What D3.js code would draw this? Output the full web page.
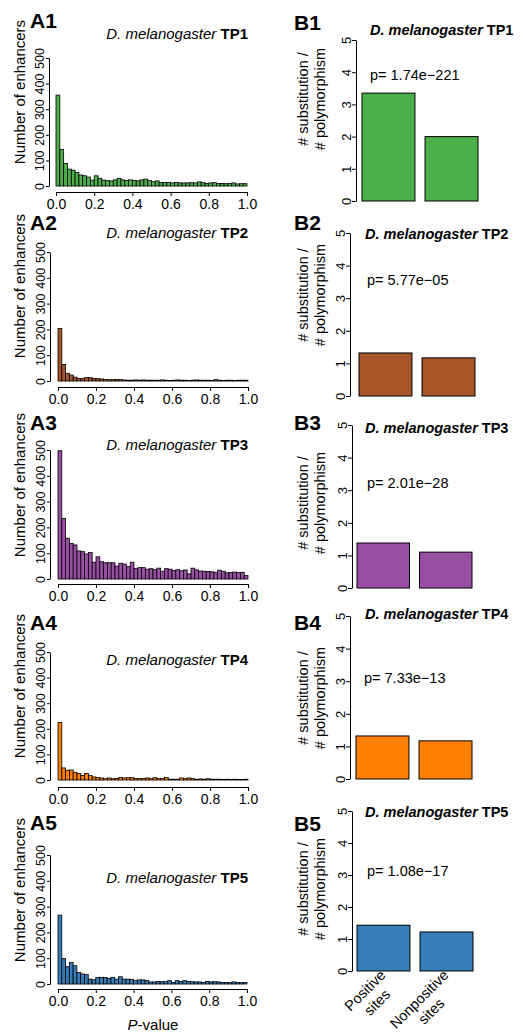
<!DOCTYPE html>
<html>
<head>
<meta charset="utf-8">
<script src="https://cdn.jsdelivr.net/npm/d3@7"></script>
<style>
  body { margin: 0; background: #fff; }
  svg { display: block; font-family: "Liberation Sans", Arial, sans-serif; }
  .domain, .tick line { stroke: #000; stroke-width: 1; }
</style>
</head>
<body>
<svg id="fig" width="523" height="1035"></svg>
<script>
// ---- data ----
const timepoints = ["TP1", "TP2", "TP3", "TP4", "TP5"];
const panelColors = ["#4daf4a", "#a65628", "#984ea3", "#ff7f00", "#377eb8"];
const binWidth = 0.02;

// enhancer counts per P-value bin (50 bins of 0.02)
const countsTP1 = [355, 143, 88, 66, 62, 53, 43, 40, 35, 23, 40, 30, 23, 21, 20, 24, 29, 24, 21, 24,
  22, 20, 24, 27, 21, 17, 20, 14, 14, 14, 12, 14, 12, 12, 12, 13, 12, 16, 13, 10,
  12, 13, 10, 10, 9, 10, 12, 8, 9, 9];
const countsTP2 = [204, 64, 30, 23, 15, 10, 10, 13, 13, 10, 9, 8, 6, 5, 5, 6, 5, 4, 3, 3,
  4, 3, 4, 3, 3, 3, 3, 4, 3, 2, 3, 4, 3, 3, 2, 3, 4, 3, 3, 3,
  2, 5, 3, 2, 3, 3, 2, 3, 3, 3];
const countsTP3 = [497, 235, 158, 138, 132, 109, 106, 97, 103, 65, 86, 67, 63, 63, 63, 50, 61, 58, 48, 65,
  41, 44, 44, 38, 40, 36, 42, 30, 40, 38, 33, 36, 32, 35, 20, 42, 35, 31, 30, 29,
  28, 26, 34, 30, 24, 25, 27, 25, 26, 14];
const countsTP4 = [225, 47, 38, 39, 30, 25, 18, 25, 17, 12, 10, 8, 5, 8, 5, 6, 10, 8, 9, 9,
  6, 5, 6, 8, 5, 9, 6, 6, 10, 3, 3, 3, 8, 5, 8, 5, 3, 4, 3, 5,
  3, 3, 3, 2, 3, 2, 3, 2, 2, 3];
const countsTP5 = [267, 99, 67, 83, 71, 45, 39, 37, 19, 16, 25, 26, 25, 22, 26, 19, 28, 19, 19, 18,
  13, 16, 16, 13, 8, 8, 10, 9, 9, 13, 6, 13, 10, 13, 10, 9, 8, 8, 6, 10,
  8, 9, 8, 6, 6, 5, 8, 6, 5, 6];
const histCounts = [countsTP1, countsTP2, countsTP3, countsTP4, countsTP5];
const countTicks = [0, 100, 200, 300, 400, 500];
const pTicks = [0, 0.2, 0.4, 0.6, 0.8, 1.0];

// substitution / polymorphism ratio
const siteLabels = [["Positive", "sites"], ["Nonpositive", "sites"]];
const ratioPositive = [3.35, 1.32, 1.38, 1.32, 1.43];
const ratioNonpositive = [2.0, 1.17, 1.10, 1.17, 1.22];
const pValueText = ["1.74e\u2212221", "5.77e\u221205", "2.01e\u221228", "7.33e\u221213", "1.08e\u221217"];
const ratioTicks = [0, 1, 2, 3, 4, 5];

// ---- layout (pixel positions of each row) ----
const histRows = [
  { top: 58, base: 186, axisY: 192, x0: 56, x1: 247, axisX: 49, letterY: 28, titleY: 39, ylabY: 92 },
  { top: 252, base: 381, axisY: 387, x0: 58, x1: 248, axisX: 50, letterY: 230, titleY: 238, ylabY: 286 },
  { top: 450, base: 579, axisY: 584, x0: 58, x1: 248, axisX: 50, letterY: 430, titleY: 450, ylabY: 485 },
  { top: 652, base: 780, axisY: 787, x0: 58, x1: 248, axisX: 50, letterY: 630, titleY: 665, ylabY: 686 },
  { top: 855, base: 984, axisY: 989, x0: 58, x1: 247, axisX: 50, letterY: 830, titleY: 883, ylabY: 890 }
];
const barRows = [
  { top: 40, base: 201, axisX: 356, x0: 362, x1: 478, letterY: 30, titleX: 370, titleY: 35, pX: 370, pY: 80, ylabY: 99 },
  { top: 233, base: 396, axisX: 350, x0: 359, x1: 475, letterY: 230, titleX: 365, titleY: 239, pX: 367, pY: 285, ylabY: 295 },
  { top: 425, base: 588, axisX: 352, x0: 357, x1: 472, letterY: 430, titleX: 365, titleY: 433, pX: 367, pY: 488, ylabY: 503 },
  { top: 616, base: 779, axisX: 350, x0: 356, x1: 472, letterY: 630, titleX: 365, titleY: 619, pX: 364, pY: 683, ylabY: 698 },
  { top: 811, base: 971, axisX: 352, x0: 357, x1: 473, letterY: 831, titleX: 365, titleY: 817, pX: 367, pY: 876, ylabY: 889 }
];

const svg = d3.select("#fig");

function addTitle(g, x, y, anchor, tp, size, boldSpecies) {
  const t = g.append("text")
    .attr("x", x).attr("y", y)
    .attr("text-anchor", anchor)
    .style("font-size", size + "px");
  t.append("tspan")
    .style("font-style", "italic")
    .style("font-weight", boldSpecies ? "bold" : "normal")
    .text("D. melanogaster ");
  t.append("tspan").style("font-weight", "bold").text(tp);
}

function drawHistogram(i) {
  const L = histRows[i];
  const counts = histCounts[i];
  const g = svg.append("g");

  const x = d3.scaleLinear().domain([0, 1]).range([L.x0, L.x1]);
  const y = d3.scaleLinear().domain([0, 500]).range([L.base, L.top]);

  g.append("g").selectAll("rect")
    .data(counts)
    .enter().append("rect")
    .attr("x", (d, k) => x(k * binWidth))
    .attr("width", (d, k) => x((k + 1) * binWidth) - x(k * binWidth))
    .attr("y", d => y(d))
    .attr("height", d => y(0) - y(d))
    .attr("fill", panelColors[i])
    .attr("stroke", "#000")
    .attr("stroke-width", 0.8);

  const xAxis = g.append("g")
    .attr("transform", `translate(0,${L.axisY})`)
    .call(d3.axisBottom(x).tickValues(pTicks).tickFormat(d3.format(".1f")).tickSize(4).tickSizeOuter(0));
  xAxis.select(".domain").attr("fill", "none");
  xAxis.selectAll("text")
    .attr("fill", "#000")
    .attr("y", 7)
    .style("font-size", "14px");

  const yAxis = g.append("g")
    .attr("transform", `translate(${L.axisX},0)`)
    .call(d3.axisLeft(y).tickValues(countTicks).tickSize(3).tickSizeOuter(0));
  yAxis.select(".domain").attr("fill", "none");
  yAxis.selectAll("text")
    .attr("fill", "#000")
    .attr("transform", "rotate(-90)")
    .attr("x", 0).attr("y", -5).attr("dy", 0)
    .attr("text-anchor", "middle")
    .style("font-size", "12.5px");

  g.append("text")
    .attr("transform", `translate(25,${L.ylabY}) rotate(-90)`)
    .attr("text-anchor", "middle")
    .style("font-size", "15px")
    .text("Number of enhancers");

  g.append("text")
    .attr("x", 30).attr("y", L.letterY)
    .style("font-size", "21px").style("font-weight", "bold")
    .text("A" + (i + 1));

  addTitle(g, 248, L.titleY, "end", timepoints[i], 15, false);
}

function drawRatio(i) {
  const L = barRows[i];
  const g = svg.append("g");
  const vals = [ratioPositive[i], ratioNonpositive[i]];

  const x = d3.scaleBand().domain([0, 1]).range([L.x0, L.x1]).paddingInner(0.16).paddingOuter(0);
  const y = d3.scaleLinear().domain([0, 5]).range([L.base, L.top]);

  g.append("g").selectAll("rect")
    .data(vals)
    .enter().append("rect")
    .attr("x", (d, k) => x(k))
    .attr("width", x.bandwidth())
    .attr("y", d => y(d))
    .attr("height", d => y(0) - y(d))
    .attr("fill", panelColors[i])
    .attr("stroke", "#000")
    .attr("stroke-width", 1);

  const yAxis = g.append("g")
    .attr("transform", `translate(${L.axisX},0)`)
    .call(d3.axisLeft(y).tickValues(ratioTicks).tickFormat(d3.format("d")).tickSize(4).tickSizeOuter(0));
  yAxis.select(".domain").attr("fill", "none");
  yAxis.selectAll("text")
    .attr("fill", "#000")
    .attr("transform", "rotate(-90)")
    .attr("x", 0).attr("y", -5).attr("dy", 0)
    .attr("text-anchor", "middle")
    .style("font-size", "13px");

  const ylab = g.append("text")
    .attr("transform", `translate(0,${L.ylabY}) rotate(-90)`)
    .attr("text-anchor", "middle")
    .style("font-size", "14.5px");
  ylab.append("tspan").attr("x", 0).attr("y", 308).text("# substitution /");
  ylab.append("tspan").attr("x", 0).attr("y", 325).text("# polymorphism");

  g.append("text")
    .attr("x", 294).attr("y", L.letterY)
    .style("font-size", "21px").style("font-weight", "bold")
    .text("B" + (i + 1));

  addTitle(g, L.titleX, L.titleY, "start", timepoints[i], 14.5, true);

  g.append("text")
    .attr("x", L.pX).attr("y", L.pY)
    .style("font-size", "14.5px")
    .text("p= " + pValueText[i]);

  // rotated category labels under the last panel only
  if (i === barRows.length - 1) {
    siteLabels.forEach((lines, k) => {
      const lg = g.append("g")
        .attr("transform", `translate(${x(k) + x.bandwidth() / 2 + 3},${L.base + 5}) rotate(-45)`);
      const first = lg.append("text")
        .attr("text-anchor", "end")
        .style("font-size", "14.5px")
        .text(lines[0]);
      const w = first.node().getComputedTextLength();
      lg.append("text")
        .attr("x", -w / 2).attr("y", 17)
        .attr("text-anchor", "middle")
        .style("font-size", "14.5px")
        .text(lines[1]);
    });
  }
}

d3.range(5).forEach(i => {
  drawHistogram(i);
  drawRatio(i);
});

const pl = svg.append("text")
  .attr("x", 153).attr("y", 1030)
  .attr("text-anchor", "middle")
  .style("font-size", "15px");
pl.append("tspan").style("font-style", "italic").text("P");
pl.append("tspan").text("-value");
</script>
</body>
</html>
